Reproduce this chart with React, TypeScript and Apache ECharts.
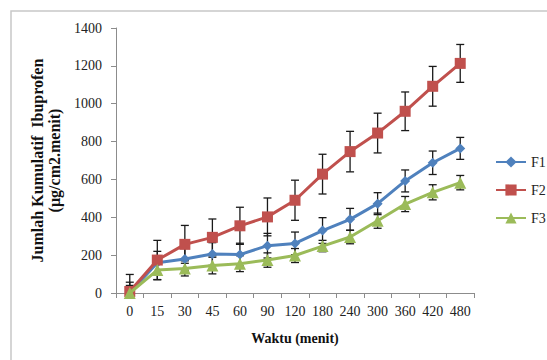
import React, { useEffect, useRef } from "react";
import * as echarts from "echarts";

const categories = ["0", "15", "30", "45", "60", "90", "120", "180", "240", "300", "360", "420", "480"];
const f1 = [2, 160, 180, 206, 203, 250, 262, 330, 389, 472, 592, 688, 764];
const f1Err = [55, 60, 60, 60, 60, 65, 60, 68, 58, 58, 58, 62, 58];
const f2 = [8, 174, 257, 294, 355, 402, 490, 628, 747, 845, 960, 1092, 1213];
const f2Err = [90, 104, 100, 97, 98, 100, 106, 105, 107, 105, 102, 105, 100];
const f3 = [0, 121, 130, 145, 155, 174, 198, 248, 296, 382, 470, 532, 583];
const f3Err = [40, 50, 40, 44, 42, 38, 37, 30, 36, 40, 40, 40, 38];
const yTicks = { min: 0, max: 1400, interval: 200 };

const FONT = "'Liberation Serif', 'Times New Roman', serif";

function errData(vals: number[], errs: number[]) {
  return vals.map((v, i) => [i, v - errs[i], v + errs[i]]);
}

function renderErr(params: any, api: any) {
  const x = api.value(0);
  const lo = api.value(1);
  const hi = api.value(2);
  const pHi = api.coord([x, hi]);
  const pLo = api.coord([x, lo]);
  const cap = 4;
  const style = { stroke: "#1a1a1a", lineWidth: 1.3 };
  return {
    type: "group",
    children: [
      { type: "line", shape: { x1: pHi[0], y1: pHi[1], x2: pLo[0], y2: pLo[1] }, style },
      { type: "line", shape: { x1: pHi[0] - cap, y1: pHi[1], x2: pHi[0] + cap, y2: pHi[1] }, style },
      { type: "line", shape: { x1: pLo[0] - cap, y1: pLo[1], x2: pLo[0] + cap, y2: pLo[1] }, style },
    ],
  };
}

export default function App() {
  const ref = useRef<HTMLDivElement>(null);
  useEffect(() => {
    if (!ref.current) return;
    const chart = echarts.init(ref.current, null, { renderer: "svg" });
    const errSeries = (name: string, vals: number[], errs: number[]) => ({
      name: name + "_err",
      type: "custom",
      renderItem: renderErr,
      data: errData(vals, errs),
      clip: true,
      z: 1,
      silent: true,
    });
    const lineSeries = (name: string, vals: number[], color: string, symbol: string, size: number, z: number) => ({
      name,
      type: "line",
      data: vals,
      symbol,
      symbolSize: size,
      lineStyle: { color, width: 3 },
      itemStyle: { color },
      z,
    });
    chart.setOption({
      animation: false,
      backgroundColor: "#ffffff",
      textStyle: { fontFamily: FONT },
      graphic: [
        {
          type: "rect",
          shape: { x: 11, y: 11, width: 700, height: 500 },
          style: { fill: "none", stroke: "#c8c8c8", lineWidth: 1.5 },
          z: -10,
        },
      ],
      grid: { left: 116, right: 73, top: 28, bottom: 67 },
      legend: {
        data: ["F1", "F2", "F3"],
        orient: "vertical",
        left: 495,
        top: 155,
        padding: 0,
        itemWidth: 30,
        itemHeight: 14,
        itemGap: 14,
        textStyle: { fontFamily: FONT, fontSize: 14, color: "#222" },
      },
      xAxis: {
        type: "category",
        data: categories,
        boundaryGap: true,
        name: "Waktu (menit)",
        nameLocation: "middle",
        nameGap: 38,
        nameTextStyle: { fontFamily: FONT, fontSize: 14, fontWeight: "bold", color: "#111" },
        axisLine: { lineStyle: { color: "#8c8c8c", width: 1 } },
        axisTick: { show: true, length: 5, alignWithLabel: false, lineStyle: { color: "#8c8c8c" } },
        axisLabel: { fontFamily: FONT, fontSize: 14, color: "#222", margin: 11, interval: 0 },
        splitLine: { show: false },
      },
      yAxis: {
        type: "value",
        min: yTicks.min,
        max: yTicks.max,
        interval: yTicks.interval,
        name: "Jumlah Kumulatif  Ibuprofen\n(µg/cm2.menit)",
        nameLocation: "middle",
        nameGap: 45,
        nameTextStyle: { fontFamily: FONT, fontSize: 16, fontWeight: "bold", color: "#111", lineHeight: 17 },
        axisLine: { show: true, lineStyle: { color: "#8c8c8c", width: 1 } },
        axisTick: { show: true, length: 5, lineStyle: { color: "#8c8c8c" } },
        axisLabel: { fontFamily: FONT, fontSize: 14, color: "#222", margin: 14, formatter: (v: number) => String(v) },
        splitLine: { show: false },
      },
      series: [
        errSeries("F1", f1, f1Err),
        errSeries("F2", f2, f2Err),
        errSeries("F3", f3, f3Err),
        lineSeries("F1", f1, "#4F81BD", "diamond", 10, 3),
        lineSeries("F2", f2, "#C0504D", "rect", 11, 4),
        lineSeries("F3", f3, "#9BBB59", "triangle", 12, 5),
      ],
    });
    return () => chart.dispose();
  }, []);
  return <div ref={ref} style={{ width: 547, height: 360, position: "absolute", left: 0, top: 0 }} />;
}
